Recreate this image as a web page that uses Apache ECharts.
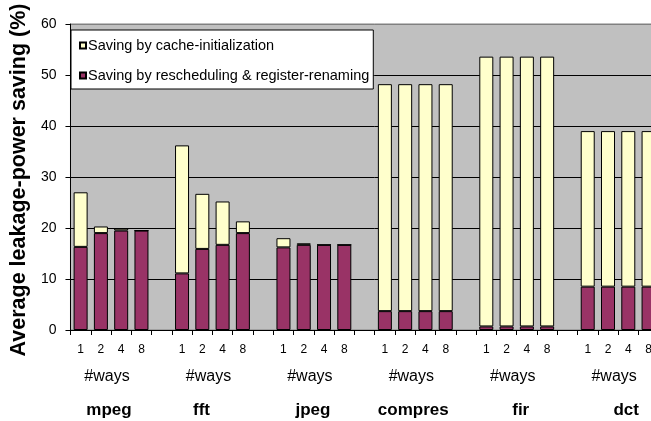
<!DOCTYPE html>
<html>
<head>
<meta charset="utf-8">
<script src="https://cdn.jsdelivr.net/npm/echarts@6/dist/echarts.min.js"></script>
<style>
  html, body { margin: 0; padding: 0; background: #ffffff; overflow: hidden; }
  /* the plot runs past the right edge of the 651px frame and is cut there */
  #frame { width: 651px; height: 421px; overflow: hidden; }
  #chart { width: 690px; height: 421px; }
</style>
</head>
<body>
<div id="frame"><div id="chart"></div></div>
<script>
// Benchmarks and cache associativities (#ways)
const benchmarks = ['mpeg', 'fft', 'jpeg', 'compres', 'fir', 'dct'];
const ways = ['1', '2', '4', '8'];

// Saving by rescheduling & register-renaming (%), 4 values per benchmark
const reschedSaving = [
  16.3, 19.0, 19.5, 19.5,   // mpeg
  11.1, 15.9, 16.7, 19.0,   // fft
  16.2, 16.7, 16.7, 16.7,   // jpeg
  3.7, 3.7, 3.7, 3.7,       // compres
  0.7, 0.7, 0.7, 0.7,       // fir
  8.5, 8.5, 8.5, 8.5        // dct
];

// Additional saving by cache-initialization (%), stacked on top
const cacheSaving = [
  10.7, 1.3, 0.4, 0.0,
  25.1, 10.8, 8.5, 2.3,
  1.8, 0.3, 0.0, 0.0,
  44.5, 44.5, 44.5, 44.5,
  52.9, 52.9, 52.9, 52.9,
  30.5, 30.5, 30.5, 30.5
];

const yTicks = [0, 10, 20, 30, 40, 50, 60];

// ---- layout / style ----
const FONT = 'Liberation Sans, Arial, sans-serif';
const PURPLE = '#993366';
const CREAM = '#FFFFCC';
// horizontal nudges (px) of the benchmark names
const nameNudge = [-2, -11, -1, -2, 4, 8];

// Each benchmark occupies 4 bar slots followed by one empty slot
const slotsPerGroup = ways.length + 1;
const categories = [];
const reschedSeries = [];
const cacheSeries = [];
benchmarks.forEach((b, g) => {
  ways.forEach((w, k) => {
    categories.push(w);
    reschedSeries.push(reschedSaving[g * ways.length + k]);
    cacheSeries.push(cacheSaving[g * ways.length + k]);
  });
  categories.push('');
  reschedSeries.push('-');
  cacheSeries.push('-');
});

// Boundary-aligned axes (one more entry than slots) for the group captions
const nSlots = categories.length;
const waysCaption = [];
const nameCaption = [];
for (let i = 0; i <= nSlots; i++) {
  const isCenter = (i % slotsPerGroup) === 2;
  const g = Math.floor(i / slotsPerGroup);
  waysCaption.push(isCenter && g < benchmarks.length ? '#ways' : '');
  nameCaption.push(isCenter && g < benchmarks.length ? benchmarks[g] : '');
}

const rich = {};
nameNudge.forEach((d, g) => {
  rich['g' + g] = {
    fontSize: 17, fontWeight: 'bold', fontFamily: FONT, color: '#000',
    padding: d >= 0 ? [0, 0, 0, 2 * d] : [0, -2 * d, 0, 0]
  };
});

const chart = echarts.init(document.getElementById('chart'), null, { renderer: 'canvas' });

const lineColors = yTicks.map((v, i) => (i === yTicks.length - 1 ? '#808080' : '#000000'));

chart.setOption({
  animation: false,
  backgroundColor: '#ffffff',
  textStyle: { fontFamily: FONT, color: '#000' },
  grid: {
    left: 67, top: 24, width: 612, height: 306,
    show: true, backgroundColor: '#C0C0C0', borderColor: '#808080', borderWidth: 1
  },
  legend: {
    orient: 'vertical',
    left: 71, top: 30,
    data: ['Saving by cache-initialization', 'Saving by rescheduling & register-renaming'],
    backgroundColor: '#ffffff',
    borderColor: '#000000', borderWidth: 1, borderRadius: 0,
    padding: [8, 4, 6, 8],
    itemWidth: 6, itemHeight: 6, itemGap: 15,
    icon: 'rect',
    textStyle: { fontSize: 14.5, fontFamily: FONT, color: '#000', padding: [0, 0, 0, -3] }
  },
  xAxis: [
    {
      type: 'category', data: categories, gridIndex: 0, position: 'bottom',
      axisLine: { lineStyle: { color: '#000', width: 1 } },
      axisTick: { show: true, interval: 0, length: 5, alignWithLabel: false, lineStyle: { color: '#000' } },
      axisLabel: { interval: 0, fontSize: 12, margin: 14, color: '#000', fontFamily: FONT },
      splitLine: { show: false }
    },
    {
      type: 'category', data: waysCaption, gridIndex: 0, position: 'bottom', boundaryGap: false,
      axisLine: { show: false }, axisTick: { show: false }, splitLine: { show: false },
      axisLabel: {
        interval: 0, fontSize: 16, margin: 39, color: '#000', fontFamily: FONT,
        padding: [0, 8, 0, 0]
      }
    },
    {
      type: 'category', data: nameCaption, gridIndex: 0, position: 'bottom', boundaryGap: false,
      axisLine: { show: false }, axisTick: { show: false }, splitLine: { show: false },
      axisLabel: {
        interval: 0, margin: 72, color: '#000', fontFamily: FONT,
        formatter: function (val) {
          const g = benchmarks.indexOf(val);
          return g >= 0 ? '{g' + g + '|' + val + '}' : '';
        },
        rich: rich
      }
    }
  ],
  yAxis: {
    type: 'value', min: yTicks[0], max: yTicks[yTicks.length - 1], interval: 10,
    name: 'Average leakage-power saving (%)',
    nameLocation: 'middle', nameGap: 34,
    nameTextStyle: { fontSize: 21.5, fontWeight: 'bold', color: '#000', fontFamily: FONT, padding: [0, 6, 0, 0] },
    axisLine: { show: true, lineStyle: { color: '#000', width: 1 } },
    axisTick: { show: true, length: 5, lineStyle: { color: '#000' } },
    axisLabel: { fontSize: 14, margin: 14, color: '#000', fontFamily: FONT },
    splitLine: { show: true, lineStyle: { color: lineColors, width: 1 } }
  },
  series: [
    {
      name: 'Saving by rescheduling & register-renaming',
      type: 'bar', stack: 'saving', xAxisIndex: 0,
      data: reschedSeries, barWidth: 14,
      itemStyle: { color: PURPLE, borderColor: '#000', borderWidth: 1 }
    },
    {
      name: 'Saving by cache-initialization',
      type: 'bar', stack: 'saving', xAxisIndex: 0,
      data: cacheSeries, barWidth: 14,
      itemStyle: { color: CREAM, borderColor: '#000', borderWidth: 1 }
    }
  ]
});
</script>
</body>
</html>
